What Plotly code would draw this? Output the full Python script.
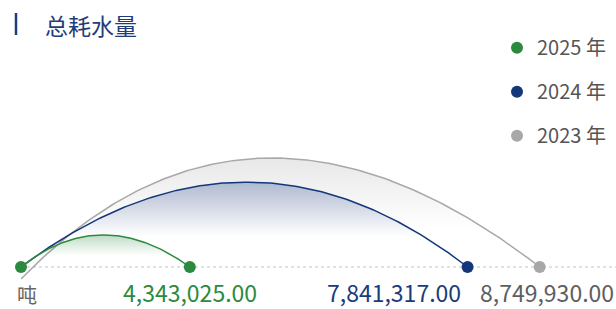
import numpy as np
import plotly.graph_objects as go

# ---- data ----
title_text = "总耗水量"
unit_text = "吨"
years = ["2025 年", "2024 年", "2023 年"]
values = [4343025.00, 7841317.00, 8749930.00]

# ---- style ----
line_colors = ["#2b8a3e", "#14367a", "#a8a8a8"]
label_colors = ["#2b8a3e", "#1b3b7a", "#5e5e5e"]
fill_rgb = ["43,138,62", "40,70,140", "150,150,150"]
fill_alpha = [0.30, 0.32, 0.22]
FONT = "Noto Sans CJK SC, Noto Sans, sans-serif"

W, H = 616, 309
ML, MR, MT, MB = 21, 0, 10, 20
PW, PH = W - ML - MR, H - MT - MB
X_MIN = 2.217e6
X_MAX = X_MIN + PW / 79.4e-6
Y_RANGE = [-22, PH - 22]
S = PW / (X_MAX - X_MIN)  # px per value unit

# arc shape parameters (per series): start drop (px), skew of control point (px), height ratio
start_drop = [0, 0, -12]
skew_px = [-4, 4, -30]
height_ratio = [0.19, 0.19, 0.21]

fig = go.Figure()

# dotted baseline
fig.add_trace(go.Scatter(x=[X_MIN, X_MAX], y=[0, 0], mode="lines",
                         line=dict(color="#c4c4c4", width=1, dash="dot"),
                         hoverinfo="skip", showlegend=False))

t = np.linspace(0, 1, 160)
order = [2, 1, 0]  # draw largest first
for i in order:
    v = values[i]
    span_px = (v - X_MIN) * S
    h = height_ratio[i] * span_px
    x0, y0 = X_MIN, start_drop[i]
    x2, y2 = v, 0.0
    x1 = (x0 + x2) / 2 + skew_px[i] / S
    y1 = 2 * h - (y0 + y2) / 2
    bx = (1 - t) ** 2 * x0 + 2 * t * (1 - t) * x1 + t ** 2 * x2
    by = (1 - t) ** 2 * y0 + 2 * t * (1 - t) * y1 + t ** 2 * y2
    fy = np.maximum(by, 0)
    c = fill_rgb[i]
    fig.add_trace(go.Scatter(
        x=np.concatenate([bx, [x2, x0]]), y=np.concatenate([fy, [0, 0]]),
        mode="lines", line=dict(width=0), fill="toself",
        fillgradient=dict(type="vertical", start=0, stop=float(fy.max()),
                          colorscale=[[0, f"rgba({c},0)"], [0.35, f"rgba({c},0)"],
                                      [1, f"rgba({c},{fill_alpha[i]})"]]),
        hoverinfo="skip", showlegend=False))
    fig.add_trace(go.Scatter(x=bx, y=by, mode="lines",
                             line=dict(color=line_colors[i], width=1.5),
                             hoverinfo="skip", showlegend=False))

# end dots (legend entries)
for rank, i in enumerate(order):
    fig.add_trace(go.Scatter(x=[values[i]], y=[0], mode="markers", name=years[i],
                             legendgroup=years[i], legendrank=i + 1,
                             marker=dict(color=line_colors[i], size=12),
                             cliponaxis=False, hoverinfo="skip"))

# origin dot
fig.add_trace(go.Scatter(x=[X_MIN], y=[0], mode="markers",
                         marker=dict(color=line_colors[0], size=12),
                         cliponaxis=False, hoverinfo="skip", showlegend=False))

LBL = 23
YS = -25
annotations = []
# value labels
annotations.append(dict(x=values[0], y=0, xref="x", yref="y", text=f"{values[0]:,.2f}",
                        showarrow=False, xanchor="center", yanchor="middle", yshift=YS, borderpad=0,
                        font=dict(size=LBL, color=label_colors[0], family=FONT)))
annotations.append(dict(x=values[1], y=0, xref="x", yref="y", text=f"{values[1]:,.2f}",
                        showarrow=False, xanchor="right", yanchor="middle", yshift=YS, xshift=-6, borderpad=0,
                        font=dict(size=LBL, color=label_colors[1], family=FONT)))
annotations.append(dict(x=1, y=0, xref="paper", yref="y", text=f"{values[2]:,.2f}",
                        showarrow=False, xanchor="right", yanchor="middle", yshift=YS, xshift=-1, borderpad=0,
                        font=dict(size=LBL, color=label_colors[2], family=FONT)))
# unit
annotations.append(dict(x=X_MIN, y=0, xref="x", yref="y", text=unit_text,
                        showarrow=False, xanchor="center", yanchor="middle", yshift=-27, xshift=6, borderpad=0,
                        font=dict(size=20, color="#666666", family=FONT)))
# title
annotations.append(dict(x=0, y=1, xref="paper", yref="paper", text=title_text,
                        showarrow=False, xanchor="left", yanchor="middle", xshift=22, yshift=-15,
                        font=dict(size=23, color="#1f3d7a", family=FONT)))

fig.update_layout(
    width=W, height=H,
    margin=dict(l=ML, r=MR, t=MT, b=MB, pad=0),
    paper_bgcolor="white", plot_bgcolor="white",
    xaxis=dict(range=[X_MIN, X_MAX], visible=False, fixedrange=True),
    yaxis=dict(range=Y_RANGE, visible=False, fixedrange=True),
    annotations=annotations,
    shapes=[dict(type="line", xref="paper", yref="paper", xsizemode="pixel", ysizemode="pixel",
                 xanchor=0, yanchor=1, x0=-5, x1=-5, y0=-3, y1=-25,
                 line=dict(color="#1f3d7a", width=2.5))],
    legend=dict(x=0.80, y=0.935, xanchor="left", yanchor="top", yref="paper",
                font=dict(size=20, color="#555555", family=FONT),
                tracegroupgap=15, itemwidth=30, bgcolor="rgba(0,0,0,0)"),
    showlegend=True,
)

fig.write_html("out.html", config={"displayModeBar": False},
               post_script="document.body.style.margin='0';document.body.style.overflow='hidden';")
